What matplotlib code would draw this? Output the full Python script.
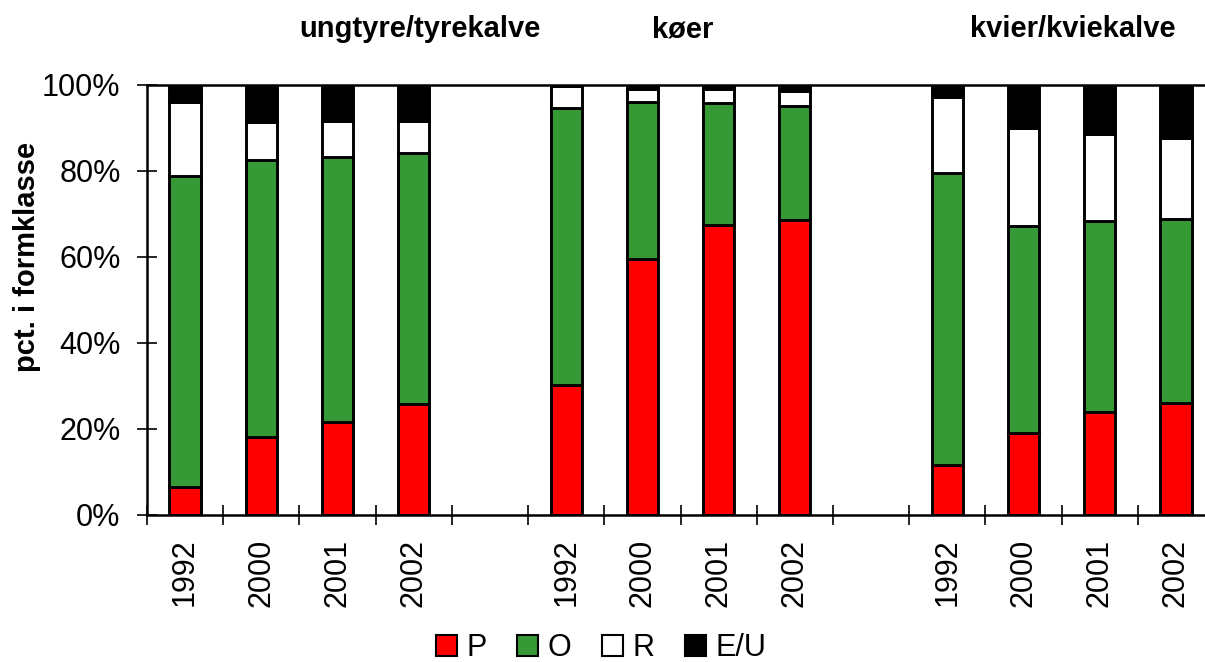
import matplotlib
matplotlib.use("Agg")
from matplotlib import pyplot as plt
from matplotlib.patches import Patch

plt.rcParams['font.family'] = ['Liberation Sans', 'DejaVu Sans']

groups = ["ungtyre/tyrekalve", "køer", "kvier/kviekalve"]
years = ["1992", "2000", "2001", "2002"]
# andel i pct. pr. formklasse, 4 år for hver gruppe
P = [6.4, 18.2, 21.7, 25.7, 30.2, 59.6, 67.4, 68.5, 11.7, 19.0, 23.9, 26.1]
O = [72.5, 64.3, 61.6, 58.4, 64.5, 36.4, 28.5, 26.7, 67.8, 48.1, 44.5, 42.8]
R = [17.1, 8.8, 8.4, 7.5, 5.1, 3.1, 3.1, 3.5, 17.6, 22.8, 20.3, 18.8]
EU = [4.0, 8.7, 8.3, 8.4, 0.2, 0.9, 1.0, 1.3, 2.9, 10.1, 11.3, 12.3]

series = [("P", P, "#ff0000"), ("O", O, "#359a35"), ("R", R, "#ffffff"), ("E/U", EU, "#000000")]

# slot 4 og 9 er tomme mellemrum mellem grupperne
slots = [0, 1, 2, 3, 5, 6, 7, 8, 10, 11, 12, 13]
xpos = [s + 0.5 for s in slots]
labels = years * 3

fig = plt.figure(figsize=(12.05, 6.62), dpi=100)
ax = fig.add_axes([147/1205, 1 - 515/662, 1067/1205, 430/662])

bottom = [0.0] * len(xpos)
for name, vals, col in series:
    ax.bar(xpos, vals, width=0.41, bottom=bottom, color=col, edgecolor="black", linewidth=2.1, label=name)
    bottom = [b + v for b, v in zip(bottom, vals)]

ax.set_xlim(0, 14)
ax.set_ylim(0, 100)
ax.set_xticks(range(15))
ax.set_xticklabels([])
ax.set_xticks(xpos, minor=True)
ax.set_xticklabels(labels, minor=True, rotation=90, fontsize=22)
ax.tick_params(axis="x", which="major", direction="inout", length=14, width=1.2)
ax.tick_params(axis="x", which="minor", length=0, pad=17)
ax.set_yticks(range(0, 101, 20))
ax.set_yticklabels([f"{v}%" for v in range(0, 101, 20)], fontsize=22)
ax.tick_params(axis="y", direction="inout", length=14, width=1.2, pad=12)
ax.spines["right"].set_visible(False)
for s in ["left", "bottom", "top"]:
    ax.spines[s].set_linewidth(1.8)

fig.text(27/1205, 1 - 257/662, "pct. i formklasse", rotation=90, ha="center", va="center",
         fontsize=21, fontweight="bold")

title_x = [3.58, 7.03, 12.15]
for g, x in zip(groups, title_x):
    ax.text(x, 113, g, ha="center", va="center", fontsize=21, fontweight="bold")

handles = [Patch(facecolor=col, edgecolor="black", linewidth=1.5, label=name) for name, vals, col in series]
fig.legend(handles=handles, loc="center", bbox_to_anchor=(601/1205, 14/662), ncol=4, frameon=False,
           fontsize=22, handlelength=0.7, handleheight=0.7, handletextpad=0.3, columnspacing=1.0,
           borderpad=0.1)

fig.savefig("out.png", dpi=100)
